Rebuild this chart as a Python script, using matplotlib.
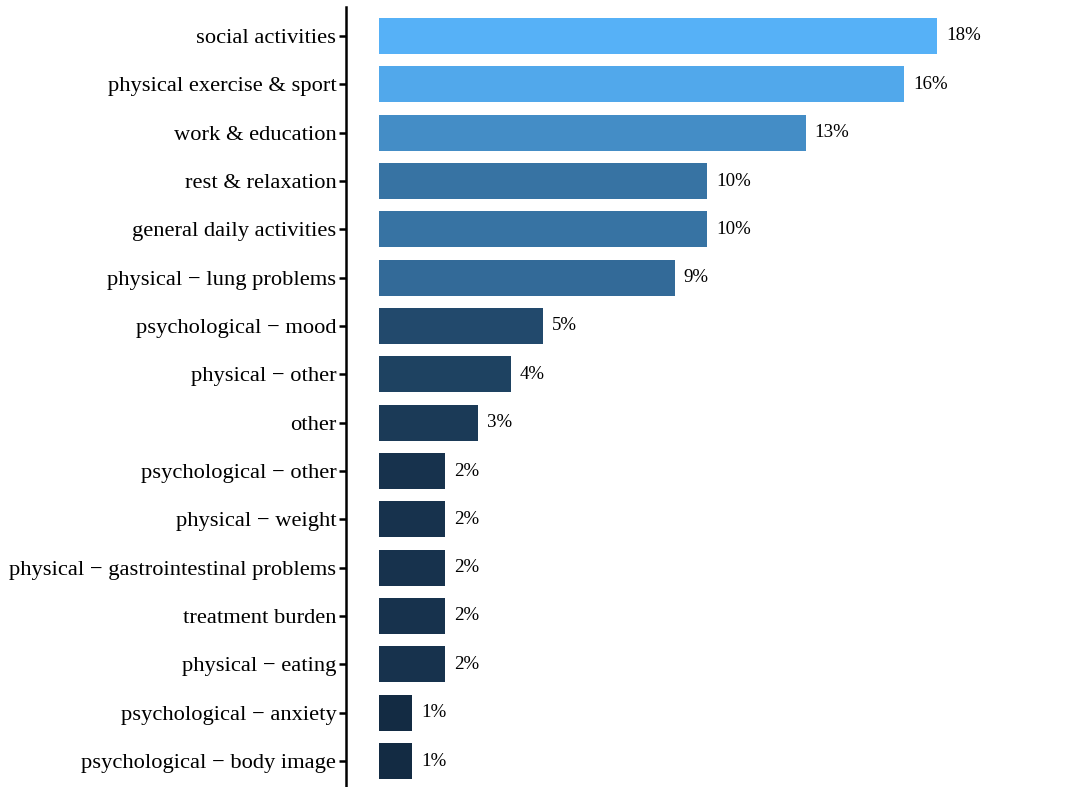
import numpy as np
import matplotlib
matplotlib.use("Agg")
import matplotlib.pyplot as plt

categories = [
    "social activities",
    "physical exercise & sport",
    "work & education",
    "rest & relaxation",
    "general daily activities",
    "physical \u2212 lung problems",
    "psychological \u2212 mood",
    "physical \u2212 other",
    "other",
    "psychological \u2212 other",
    "physical \u2212 weight",
    "physical \u2212 gastrointestinal problems",
    "treatment burden",
    "physical \u2212 eating",
    "psychological \u2212 anxiety",
    "psychological \u2212 body image",
]
counts = [17, 16, 13, 10, 10, 9, 5, 4, 3, 2, 2, 2, 2, 2, 1, 1]
pct_labels = ["18%", "16%", "13%", "10%", "10%", "9%", "5%", "4%", "3%",
              "2%", "2%", "2%", "2%", "2%", "1%", "1%"]

LOW = "#132B43"
HIGH = "#56B1F7"


def _hex2rgb(h):
    h = h.lstrip("#")
    return np.array([int(h[i:i + 2], 16) / 255 for i in (0, 2, 4)])


def _srgb2lin(c):
    return np.where(c <= 0.04045, c / 12.92, ((c + 0.055) / 1.055) ** 2.4)


def _lin2srgb(c):
    c = np.clip(c, 0, 1)
    return np.where(c <= 0.0031308, 12.92 * c, 1.055 * c ** (1 / 2.4) - 0.055)


M = np.array([[0.4124, 0.3576, 0.1805],
              [0.2126, 0.7152, 0.0722],
              [0.0193, 0.1192, 0.9505]])
WP = np.array([0.95047, 1.0, 1.08883])


def _rgb2lab(rgb):
    xyz = M @ _srgb2lin(rgb) / WP
    f = np.where(xyz > 216 / 24389, np.cbrt(xyz), (24389 / 27 * xyz + 16) / 116)
    return np.array([116 * f[1] - 16, 500 * (f[0] - f[1]), 200 * (f[1] - f[2])])


def _lab2rgb(lab):
    fy = (lab[0] + 16) / 116
    fx = fy + lab[1] / 500
    fz = fy - lab[2] / 200
    f = np.array([fx, fy, fz])
    xyz = np.where(f ** 3 > 216 / 24389, f ** 3, (116 * f - 16) / (24389 / 27)) * WP
    return _lin2srgb(np.linalg.inv(M) @ xyz)


lab_lo = _rgb2lab(_hex2rgb(LOW))
lab_hi = _rgb2lab(_hex2rgb(HIGH))
vmin, vmax = min(counts), max(counts)
colors = [tuple(_lab2rgb(lab_lo + (v - vmin) / (vmax - vmin) * (lab_hi - lab_lo)))
          for v in counts]

plt.rcParams["font.family"] = ["Liberation Serif", "DejaVu Serif"]

W, H = 1067, 787
fig = plt.figure(figsize=(W / 100, H / 100), dpi=100)
px_per_unit = 32.8
x_lo, x_hi = -1.02, 19.5
ax_left = 346
ax_w = (x_hi - x_lo) * px_per_unit
ax_top = 7
ax_bottom = 790
ax = fig.add_axes([ax_left / W, (H - ax_bottom) / H, ax_w / W, (ax_bottom - ax_top) / H])

n = len(categories)
ypos = np.arange(n)[::-1]
ax.barh(ypos, counts, height=0.74, color=colors, edgecolor="none")
for y, v, lab in zip(ypos, counts, pct_labels):
    ax.text(v + 0.27, y, lab, va="center", ha="left", fontsize=13.6, color="black")

ax.set_xlim(x_lo, x_hi)
ax.set_ylim(-0.6, n - 1 + 0.6)
ax.set_yticks(ypos)
ax.set_yticklabels(categories, fontsize=16.2)
ax.tick_params(axis="y", length=5, width=1.8, pad=2, colors="black")
ax.xaxis.set_visible(False)
for s in ("top", "right", "bottom"):
    ax.spines[s].set_visible(False)
ax.spines["left"].set_linewidth(1.8)
ax.spines["left"].set_color("black")
ax.set_facecolor("white")

fig.savefig("out.png", dpi=100, facecolor="white")
